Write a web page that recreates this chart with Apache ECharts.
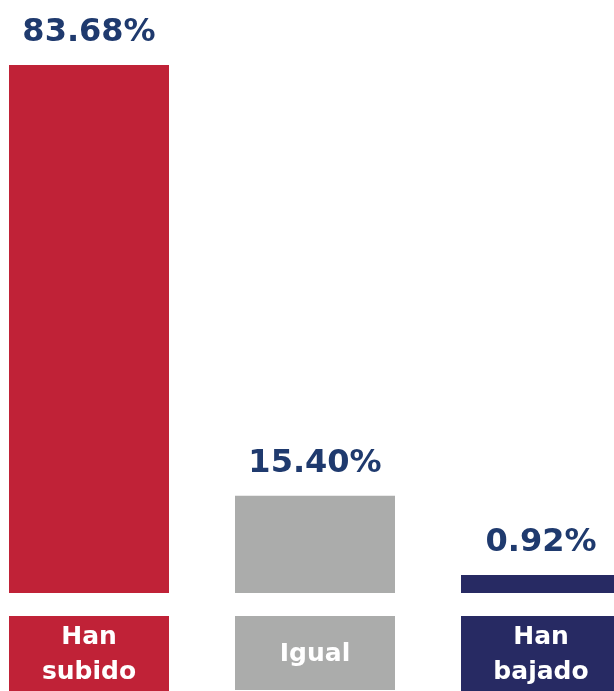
<!DOCTYPE html>
<html>
<head>
<meta charset="utf-8">
<script src="https://cdn.jsdelivr.net/npm/echarts@6/dist/echarts.min.js"></script>
<style>html,body{margin:0;padding:0;background:#fff}#c{width:614px;height:691px}</style>
</head>
<body>
<div id="c"></div>
<script>
const categories = ['Han\nsubido', 'Igual', 'Han\nbajado'];
const values = [83.68, 15.40, 0.92];
const colors = ['#C02237', '#ABACAB', '#272A63'];

const chart = echarts.init(document.getElementById('c'));
const FONT = 'DejaVu Sans';
chart.setOption({
  animation: false,
  grid: { left: -24, width: 678, top: 65, bottom: 98, containLabel: false, outerBoundsMode: 'none' },
  xAxis: {
    type: 'category',
    data: categories.map((c, i) => ({
      value: c,
      textStyle: {
        backgroundColor: colors[i],
        padding: c.indexOf('\n') >= 0 ? [4, 0, 1, 0] : [21, 0, 18, 0],
      }
    })),
    axisLine: { show: false },
    axisTick: { show: false },
    axisLabel: {
      interval: 0,
      margin: 23,
      color: '#fff',
      fontFamily: FONT,
      fontWeight: 'bold',
      fontSize: 25,
      lineHeight: 35,
      width: 160,
      align: 'center',
      overflow: 'none',
      hideOverlap: false
    }
  },
  yAxis: {
    type: 'value', min: 0, max: 83.68, show: false, splitLine: { show: false }
  },
  series: [{
    type: 'bar',
    data: values.map((v, i) => ({ value: v, itemStyle: { color: colors[i] } })),
    barWidth: 160,
    barMinHeight: 18,
    label: {
      show: true,
      position: 'top',
      distance: 16,
      color: '#1F3A6E',
      fontFamily: FONT,
      fontWeight: 'bold',
      fontSize: 32,
      formatter: p => p.value.toFixed(2) + '%'
    }
  }]
});
</script>
</body>
</html>
